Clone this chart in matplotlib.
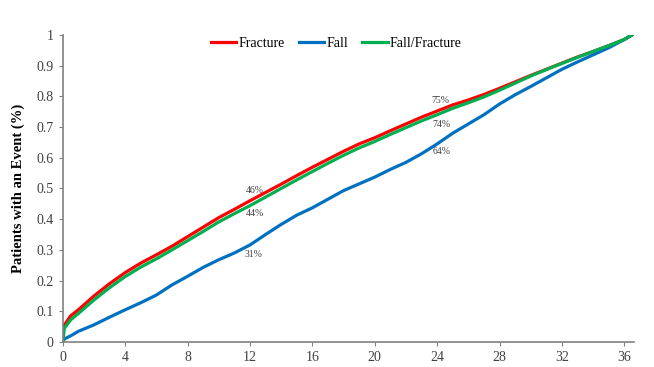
import matplotlib.pyplot as plt
import numpy as np

# months since index and cumulative share of patients with an event
months = [0, 0.1, 0.5, 1, 2, 3, 4, 5, 6, 7, 8, 9, 10, 11, 12, 13, 14, 15, 16, 17, 18,
          19, 20, 21, 22, 23, 24, 25, 26, 27, 28, 29, 30, 31, 32, 33, 34, 35, 36, 36.5]

fracture = [0.04, 0.055, 0.085, 0.105, 0.15, 0.19, 0.226, 0.257, 0.284, 0.312, 0.343,
            0.374, 0.405, 0.432, 0.46, 0.487, 0.514, 0.542, 0.569, 0.595, 0.621, 0.645,
            0.665, 0.688, 0.71, 0.732, 0.752, 0.772, 0.788, 0.806, 0.826, 0.847, 0.868,
            0.888, 0.908, 0.928, 0.946, 0.965, 0.985, 1.0]

fall = [0.0, 0.01, 0.02, 0.035, 0.056, 0.081, 0.105, 0.128, 0.153, 0.186, 0.214, 0.243,
        0.268, 0.29, 0.316, 0.35, 0.383, 0.413, 0.437, 0.465, 0.493, 0.515, 0.537, 0.562,
        0.585, 0.613, 0.645, 0.68, 0.71, 0.74, 0.775, 0.805, 0.832, 0.86, 0.888, 0.912,
        0.935, 0.958, 0.985, 1.0]

fall_fracture = [0.0, 0.045, 0.072, 0.093, 0.137, 0.177, 0.213, 0.244, 0.271, 0.3, 0.33,
                 0.36, 0.391, 0.418, 0.444, 0.472, 0.5, 0.528, 0.555, 0.582, 0.608, 0.632,
                 0.653, 0.676, 0.698, 0.72, 0.74, 0.761, 0.779, 0.798, 0.82, 0.843, 0.866,
                 0.887, 0.907, 0.927, 0.946, 0.965, 0.985, 1.0]

# percentage labels: (month, y, text)
labels_12 = [(12.3, 0.494, '46%'), (12.3, 0.419, '44%'), (12.2, 0.286, '31%')]
labels_24 = [(24.2, 0.786, '75%'), (24.3, 0.708, '74%'), (24.3, 0.621, '64%')]

plt.rcParams['font.family'] = ['Liberation Serif', 'DejaVu Serif']

fig = plt.figure(figsize=(6.54, 3.67), dpi=100)
ax = fig.add_axes([0.096, 0.068, 0.873, 0.837])

ax.plot(months, fracture, color='#ff0000', lw=2.3, label='Fracture')
ax.plot(months, fall, color='#0070c0', lw=2.3, label='Fall')
ax.plot(months, fall_fracture, color='#00b050', lw=2.3, label='Fall/Fracture')

for x, y, t in labels_12 + labels_24:
    ax.text(x, y, t, fontsize=7, color='#404040', ha='center', va='center')

ax.set_xlim(0, 36.6)
ax.set_ylim(0, 1)
ax.set_xticks(np.arange(0, 37, 4))
ax.set_yticks(np.linspace(0, 1, 11))
ax.set_yticklabels(['0', '0.1', '0.2', '0.3', '0.4', '0.5', '0.6', '0.7', '0.8', '0.9', '1'])

for side in ['top', 'right']:
    ax.spines[side].set_visible(False)
for side in ['left', 'bottom']:
    ax.spines[side].set_color('#808080')
    ax.spines[side].set_linewidth(1.2)
ax.tick_params(colors='#808080', labelcolor='#404040', labelsize=10, length=3)

ax.set_ylabel('Patients with an Event (%)', fontsize=10.5, fontweight='bold', labelpad=8)

ax.legend(loc='upper center', bbox_to_anchor=(0.479, 1.035), ncol=3, frameon=False,
          fontsize=10, handlelength=1.85, handletextpad=0.15, columnspacing=1.0)

plt.savefig('out.png', dpi=100)
